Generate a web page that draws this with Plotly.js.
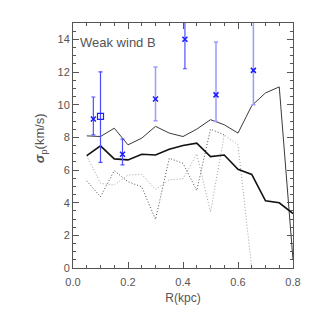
<!DOCTYPE html>
<html><head><meta charset="utf-8">
<script src="https://cdn.plot.ly/plotly-3.0.1.min.js"></script>
<style>body{margin:0;background:#fff}#c{width:316px;height:316px}</style>
</head><body><div id="c"></div>
<script>
const R = [0.05,0.10,0.15,0.20,0.25,0.30,0.35,0.40,0.45,0.50,0.55,0.60,0.65,0.70,0.75,0.80];
const meanSigma = [6.88,7.48,6.68,6.62,6.96,6.92,7.27,7.50,7.64,6.82,6.92,6.04,5.73,4.11,3.99,3.33];
const upperSigma = [8.09,8.05,8.56,7.54,7.95,8.67,8.26,8.05,8.50,9.08,8.77,8.26,9.94,10.72,11.09,0.5];
const darkDotR = [0.05,0.10,0.15,0.20,0.25,0.30,0.35,0.40,0.45,0.50,0.55];
const darkDot = [5.34,4.36,5.96,5.28,4.97,2.97,6.72,6.41,4.74,8.5,8.15];
const lightDotR = [0.05,0.10,0.15,0.20,0.25,0.30,0.35,0.40,0.45,0.50,0.55,0.60,0.65];
const lightDot = [6.87,5.18,5.08,5.69,5.73,4.81,5.40,5.46,6.98,3.43,8.15,7.54,0.0];

// observed points (x markers)
const obsR = [0.074,0.18,0.407];
const obsS = [9.12,6.97,14.0];
const obsHi = [10.47,7.89,16.0];
const obsLo = [8.15,6.31,12.2];
const obsR2 = [0.30,0.52,0.656];
const obsS2 = [10.35,10.6,12.1];
const obsHi2 = [12.3,13.83,16.0];
const obsLo2 = [9.02,8.97,10.0];
// square point
const sqR = [0.10];
const sqS = [9.28];
const sqHi = [12.01];
const sqLo = [6.47];

function errs(y,hi,lo){return {plus:y.map((v,i)=>hi[i]-v), minus:y.map((v,i)=>v-lo[i])};}
const e1=errs(obsS,obsHi,obsLo), e2=errs(obsS2,obsHi2,obsLo2), e3=errs(sqS,sqHi,sqLo);

const traces = [
 {x:lightDotR,y:lightDot,mode:'lines',line:{color:'#a0a0a0',width:1,dash:'1px,2px'}},
 {x:darkDotR,y:darkDot,mode:'lines',line:{color:'#505050',width:1,dash:'1px,2px'}},
 {x:R,y:upperSigma,mode:'lines',line:{color:'#3a3a3a',width:1}},
 {x:R,y:meanSigma,mode:'lines',line:{color:'#111',width:1.6}},
 {x:obsR2,y:obsS2,mode:'markers',marker:{symbol:'x-thin-open',size:5,color:'#1a1aff',line:{width:1.5,color:'#1a1aff'}},
  error_y:{type:'data',symmetric:false,array:e2.plus,arrayminus:e2.minus,color:'#9a9aff',thickness:1.5,width:2}},
 {x:obsR,y:obsS,mode:'markers',marker:{symbol:'x-thin-open',size:5,color:'#1a1aff',line:{width:1.5,color:'#1a1aff'}},
  error_y:{type:'data',symmetric:false,array:e1.plus,arrayminus:e1.minus,color:'#5050ff',thickness:1.2,width:2}},
 {x:sqR,y:sqS,mode:'markers',marker:{symbol:'square-open',size:6,color:'#2222ff',line:{width:1.2,color:'#2222ff'}},
  error_y:{type:'data',symmetric:false,array:e3.plus,arrayminus:e3.minus,color:'#4a4aff',thickness:1.2,width:2}}
];

const fam = 'Liberation Sans, Arial, sans-serif';
const axFont = {family:fam,size:11,color:'#555'};
const layout = {
 width:316,height:316,showlegend:false,
 paper_bgcolor:'#fff',plot_bgcolor:'#fff',
 margin:{l:73,r:23,t:23,b:48},
 font:axFont,
 xaxis:{range:[0,0.8],dtick:0.2,tickformat:'.1f',ticks:'inside',ticklen:6,tickcolor:'#555',
  showline:true,linecolor:'#555',linewidth:1,mirror:'allticks',showgrid:false,zeroline:false,
  minor:{dtick:0.05,ticks:'inside',ticklen:3,tickcolor:'#555',showgrid:false},
  ticklabelstandoff:4,
  tickfont:axFont,title:{text:'R(kpc)',font:{family:fam,size:12,color:'#555'},standoff:6}},
 yaxis:{range:[0,15],dtick:2,ticks:'inside',ticklen:6,tickcolor:'#555',
  showline:true,linecolor:'#555',linewidth:1,mirror:'allticks',showgrid:false,zeroline:false,
  minor:{dtick:0.5,ticks:'inside',ticklen:3,tickcolor:'#555',showgrid:false},
  tickfont:axFont},
 annotations:[
  {xref:'x',yref:'y',x:0.018,y:13.8,xanchor:'left',yanchor:'middle',showarrow:false,
   text:'Weak wind B',font:{family:fam,size:13,color:'#555'}},
  {xref:'paper',yref:'paper',x:-0.15,y:0.53,xanchor:'center',yanchor:'middle',showarrow:false,textangle:-90,
   text:'<b><i>σ</i></b><sub>p</sub>(km/s)',font:{family:fam,size:13,color:'#555'}}
 ]
};
Plotly.newPlot('c',traces,layout,{staticPlot:true,displayModeBar:false});
</script></body></html>
